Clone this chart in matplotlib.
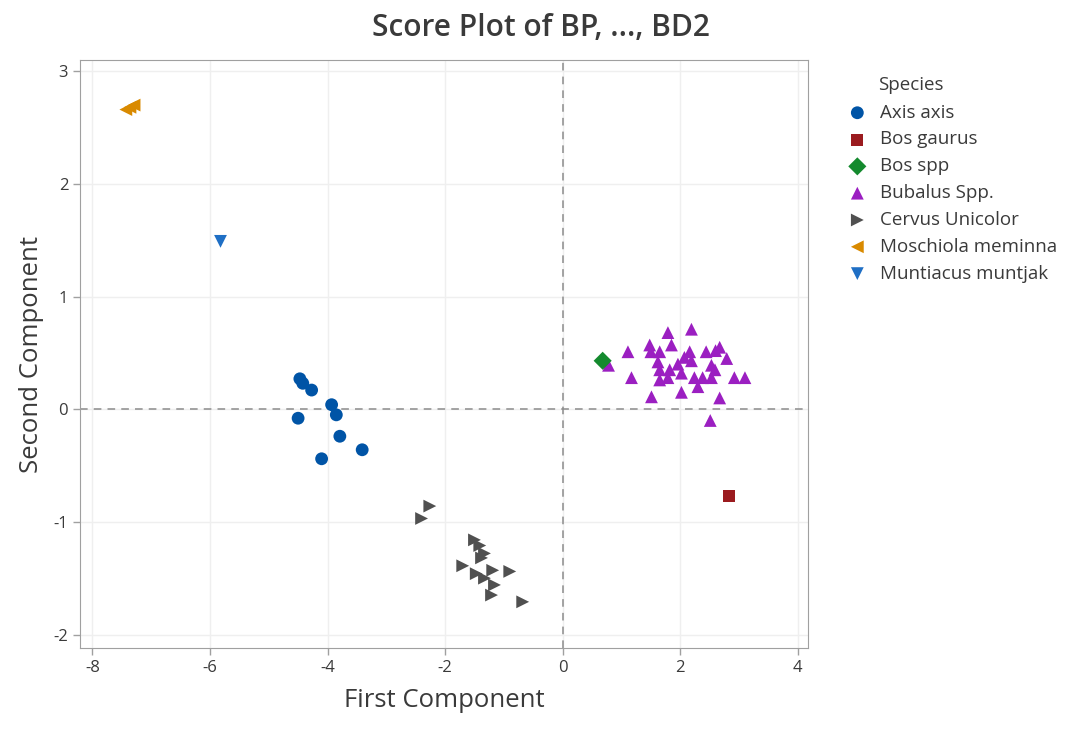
import matplotlib; matplotlib.use("Agg")
import matplotlib.pyplot as plt

plt.rcParams["font.family"] = ["Open Sans", "DejaVu Sans"]
plt.rcParams["axes.unicode_minus"] = False

# species scores (first component, second component)
axis_x = [-4.47, -4.42, -4.27, -3.93, -3.85, -4.50, -3.79, -3.41, -4.10]
axis_y = [0.27, 0.23, 0.17, 0.04, -0.05, -0.08, -0.24, -0.36, -0.44]
gaurus_x = [2.83]
gaurus_y = [-0.77]
bos_x = [0.68]
bos_y = [0.43]
bub_x = [1.79, 2.19, 1.11, 1.48, 1.50, 1.65, 1.85, 1.62, 1.65, 1.82, 1.17, 1.65, 1.79, 2.02, 2.07, 2.19, 2.02, 1.51,
         2.24, 2.44, 2.67, 2.79, 2.53, 2.59, 2.53, 2.92, 3.10, 2.30, 2.67, 2.51, 0.78, 2.60, 2.38, 1.96, 2.16]
bub_y = [0.68, 0.71, 0.51, 0.57, 0.51, 0.51, 0.57, 0.42, 0.35, 0.35, 0.28, 0.26, 0.28, 0.32, 0.46, 0.43, 0.15, 0.11,
         0.28, 0.51, 0.55, 0.45, 0.39, 0.35, 0.28, 0.28, 0.28, 0.20, 0.10, -0.10, 0.39, 0.52, 0.28, 0.40, 0.51]
cerv_x = [-2.26, -2.40, -1.50, -1.41, -1.33, -1.38, -1.70, -1.47, -1.33, -1.19, -0.90, -1.16, -1.21, -0.68]
cerv_y = [-0.86, -0.97, -1.16, -1.21, -1.28, -1.32, -1.39, -1.46, -1.50, -1.43, -1.44, -1.56, -1.65, -1.71]
mosch_x = [-7.43, -7.29, -7.36]
mosch_y = [2.66, 2.70, 2.68]
munt_x = [-5.82]
munt_y = [1.49]

series = [
    ("Axis axis", axis_x, axis_y, "o", "#0054A6"),
    ("Bos gaurus", gaurus_x, gaurus_y, "s", "#9B1B1F"),
    ("Bos spp", bos_x, bos_y, "D", "#148A2E"),
    ("Bubalus Spp.", bub_x, bub_y, "^", "#9B1FC1"),
    ("Cervus Unicolor", cerv_x, cerv_y, ">", "#505050"),
    ("Moschiola meminna", mosch_x, mosch_y, "<", "#D98A00"),
    ("Muntiacus muntjak", munt_x, munt_y, "v", "#1F6FC5"),
]

TXT = "#3a3a3a"
fig = plt.figure(figsize=(10.72, 7.30), dpi=100)
ax = fig.add_axes([0.0746, 0.1123, 0.679, 0.8055])

ax.axhline(0, color="#8c8c8c", lw=1.1, ls=(0, (5, 4)), zorder=1)
ax.axvline(0, color="#8c8c8c", lw=1.1, ls=(0, (5, 4)), zorder=1)
for name, xs, ys, m, c in series[::-1]:
    ax.scatter(xs, ys, marker=m, s=85 if m != "s" else 75, color=c, edgecolors="none", zorder=3, label=name)

ax.set_xlim(-8.21, 4.17); ax.set_ylim(-2.12, 3.10)
ax.set_xticks(range(-8, 5, 2)); ax.set_yticks(range(-2, 4))
ax.grid(color="#efefef", lw=1, zorder=0)
ax.set_axisbelow(True)
ax.tick_params(colors="#a0a0a0", labelcolor=TXT, labelsize=12, length=5, width=1)
for s in ax.spines.values(): s.set_color("#a0a0a0")

ax.set_xlabel("First Component", fontsize=18.5, color=TXT, labelpad=9)
ax.set_ylabel("Second Component", fontsize=18.5, color=TXT, labelpad=7)
fig.text(0.505, 0.962, "Score Plot of BP, ..., BD2", fontsize=21.5, weight="semibold", color=TXT,
         ha="center", va="center")

h, l = ax.get_legend_handles_labels()
fig.legend(h[::-1], l[::-1], loc="upper left", bbox_to_anchor=(0.791, 0.858), frameon=False,
           fontsize=13.5, handlelength=1.0, handletextpad=0.7, labelspacing=0.47, labelcolor=TXT,
           borderaxespad=0, borderpad=0)
fig.text(0.819, 0.883, "Species", fontsize=13.5, color=TXT, ha="left", va="center")

fig.savefig("out.png", dpi=100, facecolor="white")
